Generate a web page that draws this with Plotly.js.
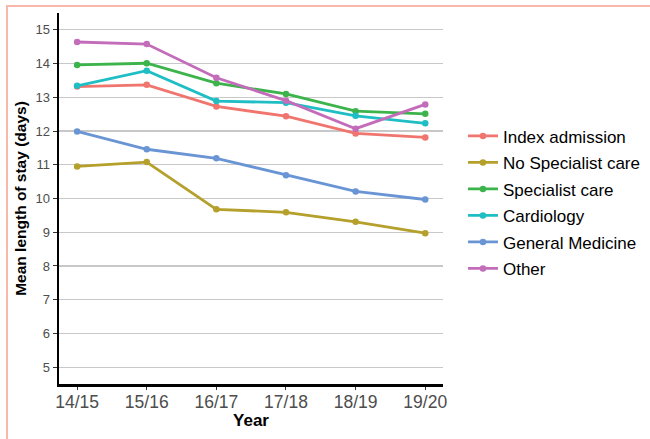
<!DOCTYPE html>
<html>
<head>
<meta charset="utf-8">
<script src="https://cdn.plot.ly/plotly-3.0.1.min.js"></script>
<style>
html,body{margin:0;padding:0;background:#fff;}
#wrap{position:relative;width:650px;height:439px;overflow:hidden;}
#chart{position:absolute;left:0;top:0;width:650px;height:439px;}
#frame{position:absolute;left:6px;top:5px;width:660px;height:460px;border-top:2px solid #F9B8AA;border-left:2px solid #F9B8AA;pointer-events:none;}
</style>
</head>
<body>
<div id="wrap"><div id="chart"></div><div id="frame"></div></div>
<script>
const years = ["14/15","15/16","16/17","17/18","18/19","19/20"];
const seriesNames = ["Index admission","No Specialist care","Specialist care","Cardiology","General Medicine","Other"];
const indexAdmission = [13.32, 13.37, 12.73, 12.44, 11.93, 11.81];
const noSpecialist   = [10.95, 11.08, 9.68, 9.59, 9.31, 8.97];
const specialist     = [13.96, 14.01, 13.42, 13.10, 12.59, 12.51];
const cardiology     = [13.34, 13.79, 12.89, 12.84, 12.45, 12.23];
const generalMed     = [11.99, 11.46, 11.19, 10.69, 10.21, 9.97];
const other          = [14.64, 14.58, 13.58, 12.90, 12.07, 12.79];
const colors = ["#F0756E","#B5A02C","#3DB44B","#1EBEC4","#6A95D4","#C36CBA"];
const values = [indexAdmission, noSpecialist, specialist, cardiology, generalMed, other];

const traces = values.map((v,i)=>({
  x: years, y: v, name: seriesNames[i], legendgroup: 'g'+i, type:'scatter', mode:'lines+markers',
  line:{color:colors[i], width:2.8}, marker:{color:colors[i], size:6.5}
}));

const layout = {
  width:650, height:439,
  margin:{l:59, r:207, t:13, b:55, autoexpand:false},
  paper_bgcolor:'#fff', plot_bgcolor:'#fff',
  font:{family:'Liberation Sans, Arial, sans-serif', color:'#4d4d4d'},
  showlegend:true,
  legend:{x:1.052, y:0.716, xanchor:'left', yanchor:'top', font:{size:17, color:'#000'}, itemwidth:30, tracegroupgap:1.4, traceorder:'grouped'},
  xaxis:{
    type:'category', range:[-0.26, 5.255],
    showline:true, linecolor:'#000', linewidth:2.5, mirror:false,
    showgrid:false, zeroline:false,
    ticks:'outside', ticklen:3, tickcolor:'#333', tickwidth:1,
    ticklabelstandoff:-3,
    tickfont:{size:17.5, color:'#4d4d4d'},
    title:{text:'<b>Year</b>', font:{size:17, color:'#000'}, standoff:1}
  },
  yaxis:{
    range:[4.5, 15.5], dtick:1, tick0:5,
    showline:true, linecolor:'#000', linewidth:2.5,
    showgrid:true, gridcolor:'#c8c8c8', gridwidth:1.2, zeroline:false,
    ticks:'outside', ticklen:4, tickcolor:'#333', tickwidth:1,
    tickfont:{size:13, color:'#4d4d4d'},
    title:{text:'<b>Mean length of stay (days)</b>', font:{size:15.5, color:'#000'}, standoff:5}
  }
};
Plotly.newPlot('chart', traces, layout, {displayModeBar:false, staticPlot:true});
</script>
</body>
</html>
